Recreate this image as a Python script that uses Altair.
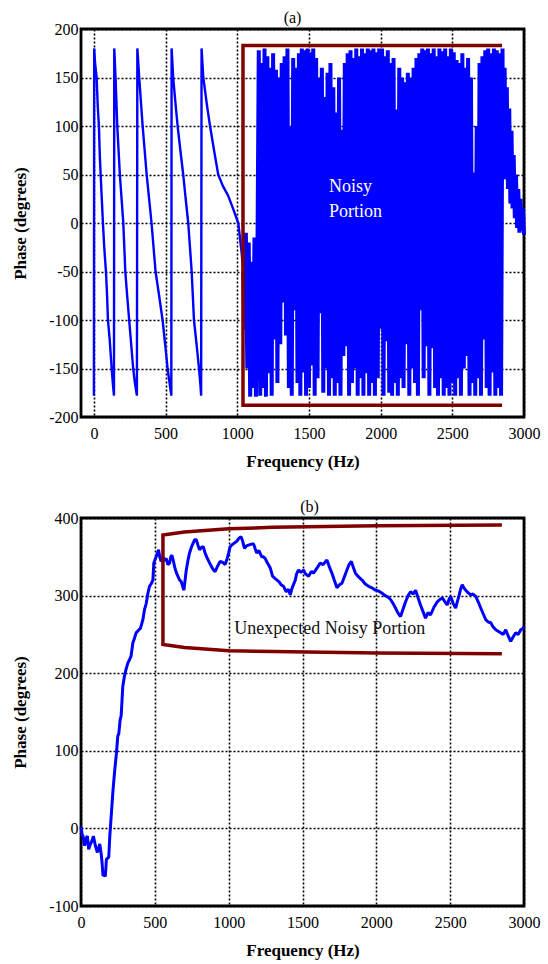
import altair as alt
import pandas as pd

# ---------------- Panel (a) ----------------
# wrapped phase before the noisy part
a_wrap_freq = [0, 2, 8, 19, 27, 35, 41, 47, 55, 63, 72, 84, 92, 98, 110, 124, 132, 140,
               142, 151, 157, 163, 172, 181, 193, 205, 212, 219, 232, 246, 260, 274, 286, 300,
               303, 316, 328, 340, 354, 368, 385, 402, 416, 430, 455, 479, 497, 514, 528, 540,
               542, 553, 568, 584, 603, 623, 640, 658, 670, 682, 690, 698, 716, 733, 742, 748,
               751, 763, 790, 810, 838, 867, 900, 937, 970, 1007, 1030, 1042]
a_wrap_phase = [-178, 180, 165, 150, 120, 100, 70, 50, 25, 0, -25, -50, -75, -100, -120, -150, -165, -178,
                180, 150, 125, 100, 75, 50, 25, 0, -25, -50, -75, -100, -125, -150, -165, -178,
                180, 150, 125, 100, 75, 50, 25, 0, -25, -50, -75, -100, -125, -150, -165, -178,
                180, 150, 125, 100, 75, 50, 25, 0, -25, -50, -75, -100, -125, -150, -165, -178,
                180, 150, 120, 100, 75, 50, 38, 28, 15, 0, -30, -50]

# start of the noise (below zero only)
a_pre_freq = [1042, 1050, 1060, 1070, 1080, 1090, 1100, 1110, 1120, 1130, 1140]
a_pre_phase = [-50, -110, -10, -150, -20, -179, -40, -170, -15, -179, -45]

# noisy portion: peaks at 1150, 1170, ... Hz and troughs at 1160, 1180, ... Hz
a_peak_start, a_trough_start, a_noise_step = 1150, 1160, 20
a_noise_peaks = [178, 165, 180, 172, 160, 175, 158, 150, 165, 172,
                 180, 100, 170, 160, 175, 180, 178, 180, 176, 180,
                 170, 150, 160, 130, 155, 165, 140, 114, 150, 96,
                 165, 175, 178, 170, 180, 172, 180, 175, 180, 178,
                 180, 176, 180, 180, 172, 178, 165, 170, 117, 160,
                 150, 145, 155, 150, 160, 170, 175, 180, 178, 180,
                 175, 180, 172, 180, 177, 180, 172, 180, 176, 168,
                 165, 175, 160, 170, 150, 52, 100, 165, 172, 178,
                 180, 175, 180, 178, 175]
a_noise_troughs = [-178, -170, -179, -155, -178, -120, -165, -125, -82, -116,
                   -170, -178, -90, -165, -178, -154, -178, -170, -147, -178,
                   -160, -93, -175, -150, -178, -160, -178, -165, -178, -137,
                   -127, -178, -165, -150, -178, -160, -178, -155, -178, -165,
                   -178, -160, -109, -178, -122, -175, -178, -165, -178, -160,
                   -170, -125, -178, -150, -165, -178, -90, -160, -127, -178,
                   -129, -170, -178, -160, -178, -170, -178, -165, -178, -160,
                   -178, -150, -137, -178, -165, -178, -160, -178, -120, -170,
                   -178, -154, -178, -170, -178]

a_tail_freq = [2850, 2855, 2865, 2872, 2880, 2888, 2897, 2905, 2913, 2920,
               2928, 2936, 2944, 2952, 2960, 2968, 2976, 2984, 2992, 3000]
a_tail_phase = [180, 55, 160, 45, 140, 35, 118, 20, 95, 15,
                70, 5, 50, -5, 35, -10, 25, -8, 15, -12]

a_box_freq = [2847, 1040, 1040, 2847]
a_box_phase = [183, 183, -188, -188]

a_text_freq = [1640, 1640]
a_text_phase = [37, 11]
a_text = ["Noisy", "Portion"]

# ---------------- Panel (b) ----------------
b_freq = [0, 8, 14, 22, 29, 36, 43, 52, 60, 70, 84, 97, 111, 120, 127, 138, 143, 149, 158, 165,
          172, 188, 195, 206, 217, 229, 240, 249, 256, 265, 272, 283, 294, 305, 317, 330, 339, 351,
          362, 373, 388, 403, 419, 430, 442, 453, 464, 475, 487, 493, 509, 518, 525, 533, 543, 555,
          566, 577, 588, 600, 608, 616, 625, 634, 645, 656, 668, 679, 688, 697, 705, 713, 724, 735,
          747, 758, 770, 781, 792, 803, 815, 828, 840, 851, 868, 885, 897, 908, 925, 942, 958, 976,
          990, 1000, 1010, 1020, 1040, 1055, 1070, 1084, 1095, 1107, 1120, 1134, 1150, 1168, 1180,
          1190, 1205, 1224, 1236, 1247, 1260, 1281, 1297, 1315, 1340, 1355, 1371, 1390, 1405, 1417,
          1430, 1451, 1460, 1473, 1490, 1507, 1520, 1541, 1560, 1575, 1600, 1620, 1640, 1665, 1680,
          1699, 1715, 1733, 1750, 1767, 1785, 1801, 1815, 1831, 1845, 1858, 1880, 1903, 1925, 1948,
          1970, 1994, 2015, 2039, 2060, 2080, 2096, 2113, 2130, 2145, 2164, 2180, 2198, 2215, 2232,
          2250, 2266, 2283, 2299, 2315, 2333, 2350, 2367, 2390, 2413, 2430, 2447, 2465, 2480, 2492,
          2503, 2520, 2537, 2548, 2559, 2570, 2582, 2593, 2605, 2620, 2639, 2655, 2673, 2690, 2707,
          2725, 2741, 2758, 2775, 2790, 2809, 2825, 2842, 2860, 2876, 2893, 2910, 2927, 2944, 2960,
          2978, 2995, 3000]
b_phase = [2, -8, -10, -22, -20, -12, -10, -27, -22, -18, -10, -22, -31, -25, -20, -35, -45, -61, -60, -62,
           -40, -37, -10, 20, 50, 76, 97, 119, 122, 140, 145, 183, 196, 205, 213, 218, 222, 239,
           245, 252, 255, 258, 269, 282, 290, 303, 312, 315, 320, 342, 350, 355, 359, 350, 344, 350,
           345, 348, 340, 342, 350, 352, 345, 337, 330, 325, 320, 318, 312, 307, 320, 333, 345, 355,
           362, 367, 372, 372, 365, 359, 362, 363, 355, 350, 343, 337, 333, 331, 338, 344, 343, 340,
           348, 355, 363, 365, 368, 370, 374, 376, 370, 361, 364, 365, 366, 367, 360,
           355, 358, 350, 350, 348, 343, 336, 325, 322, 318, 314, 312, 305, 308, 301,
           310, 320, 328, 333, 330, 333, 328, 325, 331, 329, 336, 342, 340, 346, 338,
           329, 320, 310, 314, 316, 325, 333, 340, 344, 336, 329, 324, 320, 315, 312,
           310, 307, 306, 303, 300, 298, 295, 290, 284, 278, 273, 282, 292, 300, 305,
           302, 307, 297, 288, 280, 271, 278, 275, 285, 292, 295, 297, 292, 288, 295,
           299, 290, 284, 292, 299, 308, 314, 310, 307, 304, 301, 302, 299, 292, 284,
           276, 269, 266, 265, 260, 256, 254, 252, 250, 256, 248, 241, 247, 252, 250,
           256, 258, 260]

b_box_freq = [2850, 2000, 1300, 1000, 700, 555, 555, 700, 1000, 1300, 2000, 2850]
b_box_phase = [391, 390, 388, 386, 382, 378, 237, 233, 229, 228, 226, 225]

b_text_freq = [1684]
b_text_phase = [257]
b_text = ["Unexpected Noisy Portion"]

# ---------------- tables ----------------
n_freq = list(a_pre_freq)
n_phase = list(a_pre_phase)
for i, (p, t) in enumerate(zip(a_noise_peaks, a_noise_troughs)):
    n_freq += [a_peak_start + a_noise_step * i, a_trough_start + a_noise_step * i]
    n_phase += [p, t]
n_freq += a_tail_freq
n_phase += a_tail_phase

df_a = pd.DataFrame({"f": a_wrap_freq, "p": a_wrap_phase, "o": range(len(a_wrap_freq))})
df_an = pd.DataFrame({"f": n_freq, "p": n_phase, "o": range(len(n_freq))})
df_a_box = pd.DataFrame({"f": a_box_freq, "p": a_box_phase, "o": range(len(a_box_freq))})
df_a_txt = pd.DataFrame({"f": a_text_freq, "p": a_text_phase, "t": a_text})
df_b = pd.DataFrame({"f": b_freq, "p": b_phase, "o": range(len(b_freq))})
df_b_box = pd.DataFrame({"f": b_box_freq, "p": b_box_phase, "o": range(len(b_box_freq))})
df_b_txt = pd.DataFrame({"f": b_text_freq, "p": b_text_phase, "t": b_text})

FONT = "Liberation Serif"
BLUE = "#0000FF"
RED = "#800000"
xvals = [0, 500, 1000, 1500, 2000, 2500, 3000]
LBL = "'' + datum.value"


def panel(lines, dfbox, dftxt, xdom, ydom, yvals, title, tdx, txtcolor, txtsize, txtalign):
    x = alt.X("f:Q", scale=alt.Scale(domain=xdom, nice=False, zero=False),
              axis=alt.Axis(values=xvals, title="Frequency (Hz)", labelExpr=LBL))
    y = alt.Y("p:Q", scale=alt.Scale(domain=ydom, nice=False, zero=False),
              axis=alt.Axis(values=yvals, title="Phase (degrees)", labelExpr=LBL))
    layers = [alt.Chart(d).mark_line(color=BLUE, strokeWidth=w, strokeJoin="bevel").encode(
        x=x, y=y, order="o:Q") for d, w in lines]
    box = alt.Chart(dfbox).mark_line(color=RED, strokeWidth=3.5).encode(x="f:Q", y="p:Q", order="o:Q")
    txt = alt.Chart(dftxt).mark_text(font=FONT, fontSize=txtsize, color=txtcolor,
                                     align=txtalign, baseline="middle").encode(
        x="f:Q", y="p:Q", text="t:N")
    return alt.layer(*layers, box, txt).properties(
        width=443, height=388,
        title=alt.TitleParams(title, font=FONT, fontSize=16, fontWeight="normal",
                              offset=-5, dx=tdx, color="black", frame="group"))


pa = panel([(df_a, 2.4), (df_an, 4)], df_a_box, df_a_txt, [-90, 3000], [-200, 200],
           list(range(-200, 201, 50)), "(a)", -10, "white", 18, "left")
pb = panel([(df_b, 3)], df_b_box, df_b_txt, [0, 3000], [-100, 400],
           list(range(-100, 401, 50)), "(b)", 7, "#111111", 18, "center")

chart = alt.vconcat(pa, pb, spacing=26).properties(
    padding={"left": 10, "top": 8, "right": 0, "bottom": 0},
    background="white"
).configure_view(
    stroke="black", strokeWidth=2.8
).configure_axis(
    labelFont=FONT, labelFontSize=16, labelColor="black",
    titleFont=FONT, titleFontSize=17, titleFontWeight="bold", titleColor="black",
    grid=True, gridColor="black", gridDash=[2, 2], gridWidth=1.6, gridOpacity=1,
    domain=False, ticks=False, tickSize=0, labelFlush=False, labelOverlap=False
).configure_axisX(
    labelPadding=8, titlePadding=12
).configure_axisY(
    labelPadding=3, titlePadding=19
)

chart.save("out.html", embed_options={"renderer": "svg", "actions": False})
